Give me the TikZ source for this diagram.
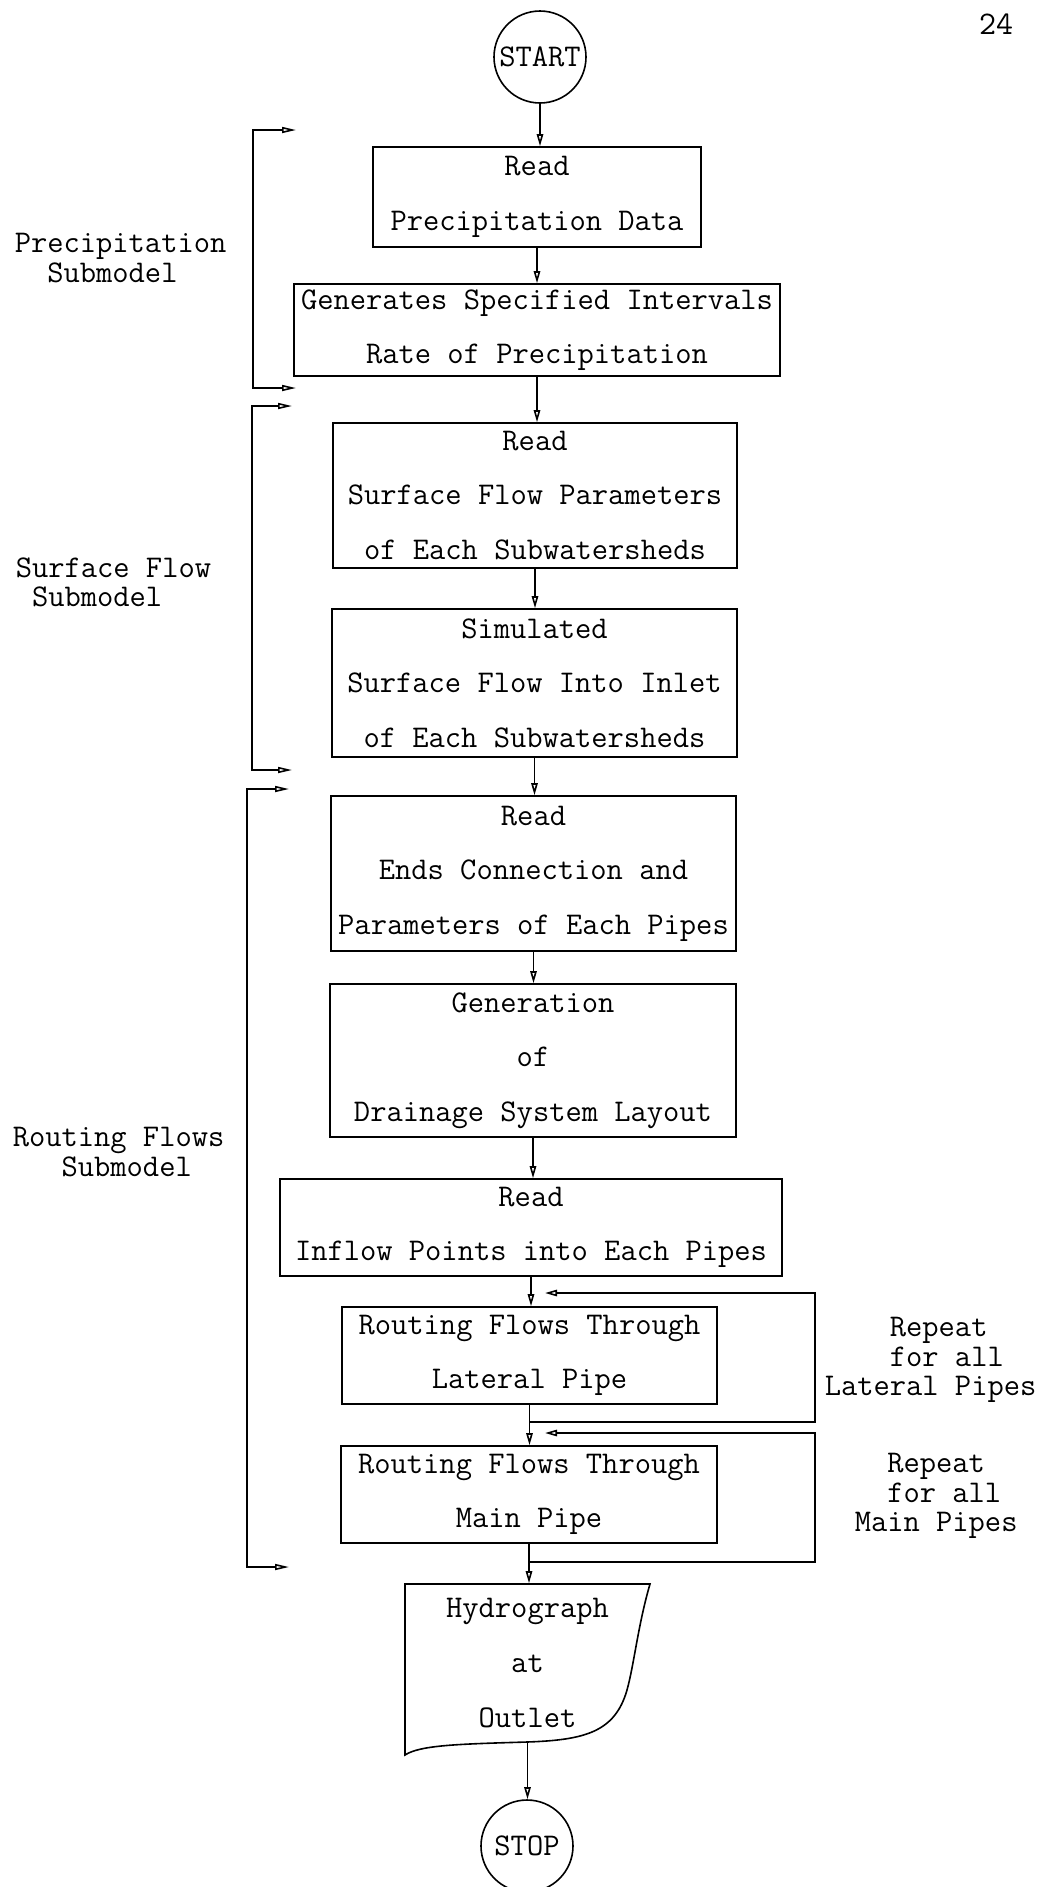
\documentclass[tikz,border=0pt]{standalone}
\usepackage{fontspec}
\let\tw\ttfamily
\usetikzlibrary{arrows.meta}
\begin{document}
\begin{tikzpicture}[x=0.5pt,y=-0.5pt,
  line width=0.8pt,
  arr/.style={-{Triangle[open,length=6pt,width=3.2pt]}},
  brk/.style={{Triangle[open,length=7pt,width=3pt]}-{Triangle[open,length=7pt,width=3pt]}},
  procbox/.style={draw,rectangle,inner sep=0pt,align=center,font=\tw\fontsize{15.8pt}{27.3pt}\selectfont},
  term/.style={draw,circle,inner sep=0pt,minimum size=46pt,font=\tw\fontsize{15.8pt}{16pt}\selectfont},
  side/.style={align=left,inner sep=0pt,font=\tw\fontsize{15.8pt}{14.6pt}\selectfont},
]
% page frame
\fill[white] (0,0) rectangle (1038,1887);
\useasboundingbox (0,0) rectangle (1038,1887);

% page number
\node[font=\tw\fontsize{16.5pt}{16pt}\selectfont,inner sep=0pt] (pg) at (996,24) {24};

% main flow
\node[term] (start) at (540,57) {START};
\node[procbox,minimum width=164pt,minimum height=50pt] (b1) at (537,197) {Read\\Precipitation Data};
\node[procbox,minimum width=243pt,minimum height=46pt] (b2) at (537,330) {Generates Specified Intervals\\Rate of Precipitation};
\node[procbox,minimum width=202pt,minimum height=72.5pt] (b3) at (535,495.5) {Read\\Surface Flow Parameters\\of Each Subwatersheds};
\node[procbox,minimum width=202.5pt,minimum height=74pt] (b4) at (534.5,683) {Simulated\\Surface Flow Into Inlet\\of Each Subwatersheds};
\node[procbox,minimum width=202.5pt,minimum height=77.5pt] (b5) at (533.5,873.5) {Read\\Ends Connection and\\Parameters of Each Pipes};
\node[procbox,minimum width=203pt,minimum height=76.5pt] (b6) at (533,1060.5) {Generation\\of\\Drainage System Layout};
\node[procbox,minimum width=251pt,minimum height=48.5pt] (b7) at (531,1227.5) {Read\\Inflow Points into Each Pipes};
\node[procbox,minimum width=187.5pt,minimum height=48.5pt] (b8) at (529.5,1355.5) {Routing Flows Through\\Lateral Pipe};
\node[procbox,minimum width=188pt,minimum height=48.5pt] (b9) at (529,1494.5) {Routing Flows Through\\Main Pipe};

% output document (hydrograph)
\node[inner sep=0pt,align=center,minimum width=122.5pt,minimum height=79pt,
      font=\tw\fontsize{15.8pt}{27.3pt}\selectfont] (hyd) at (527.5,1663) {Hydrograph\\at\\Outlet};
\draw (405,1584) -- (650,1584)
  .. controls (638,1625) and (634,1665) .. (627,1690)
  .. controls (615,1732) and (585,1740) .. (527,1742)
  .. controls (460,1744) and (420,1745) .. (405,1755) -- cycle;

\node[term] (stop) at (527,1846) {STOP};

% connectors
\draw[arr] (start) -- (start |- b1.north);
\draw[arr] (b1) -- (b1 |- b2.north);
\draw[arr] (b2) -- (b2 |- b3.north);
\draw[arr] (b3) -- (b3 |- b4.north);
\draw[arr] (b4) -- (b4 |- b5.north);
\draw[arr] (b5) -- (b5 |- b6.north);
\draw[arr] (b6) -- (b6 |- b7.north);
\draw[arr] (b7) -- (b7 |- b8.north);
\draw[arr] (b8) -- (b8 |- b9.north);
\draw[arr] (b9) -- (b9 |- hyd.north);
\draw[arr] (hyd.south) -- (hyd.south |- stop.north);

% repeat loops
\coordinate (l1s) at (b8.south |- 0,1422);
\coordinate (l1c) at (815,1293);
\coordinate (l1e) at (545,1293);
\draw[arr] (l1s) -| (l1c) -- (l1e);
\coordinate (l2s) at (b9.south |- 0,1562);
\coordinate (l2c) at (815,1433);
\coordinate (l2e) at (545,1433);
\draw[arr] (l2s) -| (l2c) -- (l2e);

\node[side,anchor=west] (rl) at (824,1360) {\phantom{Late}Repeat\\\phantom{Late}for all\\Lateral Pipes};
\node[side,anchor=west] (rm) at (854,1496) {\phantom{Ma}Repeat\\\phantom{Ma}for all\\Main Pipes};

% submodel brackets
\coordinate (p1t) at (296,130);
\coordinate (p1b) at (296,388);
\draw[brk] (p1t) -- (253,130) -- (253,388) -- (p1b);
\coordinate (p2t) at (292,406);
\coordinate (p2b) at (292,770);
\draw[brk] (p2t) -- (252,406) -- (252,770) -- (p2b);
\coordinate (p3t) at (289,789);
\coordinate (p3b) at (289,1567);
\draw[brk] (p3t) -- (247,789) -- (247,1567) -- (p3b);

\node[side,anchor=west] (lp) at (14,258) {Precipitation\\\phantom{Pr}Submodel};
\node[side,anchor=west] (ls) at (15,582) {Surface Flow\\\phantom{S}Submodel};
\node[side,anchor=west] (lr) at (12,1152) {Routing Flows\\\phantom{Rou}Submodel};
\end{tikzpicture}
\end{document}
